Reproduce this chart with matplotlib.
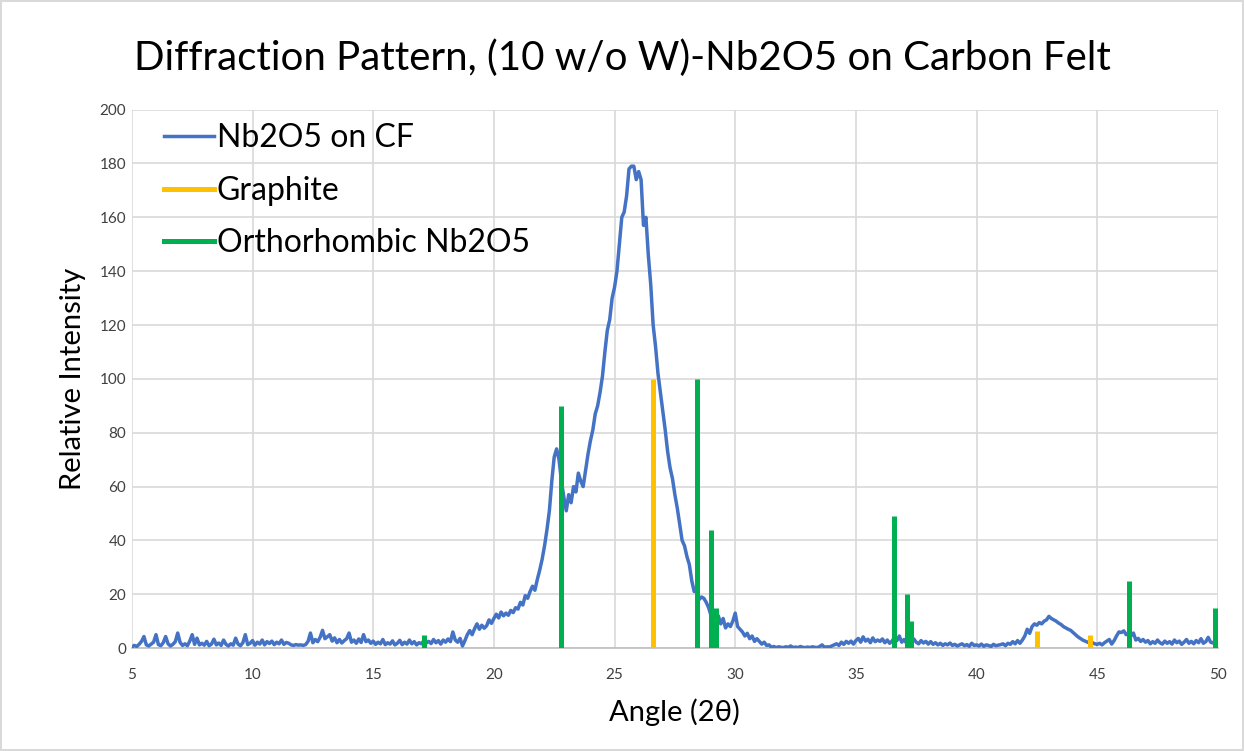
import matplotlib
matplotlib.use("Agg")
import numpy as np
from matplotlib import pyplot as plt

plt.rcParams['font.family'] = ['Lato', 'DejaVu Sans']

# measured pattern, 0.1 deg steps from 5.0 to 50.0
angle_start, angle_step = 5.0, 0.1
intensity = [
    0.4, 1.0, 0.6, 1.4, 2.5, 4.3, 1.2, 0.8, 1.5, 2.2,
    5.0, 1.3, 0.9, 2.0, 4.3, 1.6, 0.8, 1.4, 2.4, 5.6,
    2.1, 1.0, 1.6, 0.9, 2.6, 5.0, 1.4, 3.7, 1.2, 1.8,
    1.1, 2.5, 0.9, 1.5, 3.3, 1.2, 1.9, 1.0, 3.0, 1.4,
    0.8, 1.6, 1.1, 3.7, 1.5, 0.9, 2.0, 5.0, 1.3, 1.8,
    2.8, 1.1, 2.2, 1.5, 3.0, 1.2, 2.4, 1.7, 2.6, 1.3,
    2.2, 1.6, 3.0, 1.4, 2.1, 1.8, 1.2, 1.0, 1.3, 1.1,
    1.2, 1.0, 1.3, 2.5, 5.6, 2.0, 3.2, 2.4, 4.0, 6.6,
    3.5, 4.2, 5.0, 2.6, 3.8, 2.0, 3.2, 1.9, 2.8, 3.5,
    5.6, 2.2, 3.0, 1.8, 3.4, 2.1, 5.0, 2.4, 3.0, 1.8,
    2.6, 1.4, 2.2, 1.6, 3.2, 1.3, 2.0, 1.5, 2.7, 1.2,
    1.8, 2.9, 1.3, 2.2, 1.5, 3.0, 1.6, 2.4, 1.2, 2.0,
    1.6, 2.8, 1.9, 2.5, 1.7, 3.2, 2.0, 2.8, 1.5, 3.0,
    2.2, 3.4, 2.4, 6.0, 3.0, 2.2, 3.6, 0.8, 2.8, 5.0,
    6.5, 5.0, 7.2, 9.0, 7.0, 8.5, 7.4, 8.3, 10.5, 9.2,
    11.0, 12.6, 11.2, 13.4, 12.0, 13.0, 12.2, 14.0, 13.2, 15.0,
    14.5, 17.0, 16.0, 19.5, 18.5, 21.0, 23.0, 21.5, 25.5, 29.0,
    33.0, 38.0, 44.0, 51.0, 62.0, 71.0, 74.0, 70.0, 62.0, 56.0,
    51.0, 57.0, 54.0, 60.0, 58.0, 65.0, 62.0, 60.0, 66.0, 72.0,
    77.0, 81.0, 87.0, 90.0, 95.0, 101.0, 110.0, 118.0, 122.0, 130.0,
    134.0, 140.0, 150.0, 160.0, 162.0, 168.0, 178.0, 179.0, 179.0, 174.0,
    177.0, 174.0, 157.0, 160.0, 146.0, 135.0, 120.0, 112.0, 102.0, 95.0,
    88.0, 81.0, 73.0, 67.0, 63.0, 57.0, 52.0, 46.0, 40.0, 38.0,
    34.0, 31.0, 25.0, 21.0, 22.0, 18.0, 19.0, 18.5, 17.0, 15.0,
    12.0, 14.0, 10.0, 12.0, 9.0, 11.0, 7.5, 9.0, 8.0, 10.0,
    13.0, 8.0, 7.0, 6.0, 4.5, 5.5, 3.5, 4.5, 2.5, 3.5,
    2.5, 1.5, 2.2, 1.0, 1.2, 0.3, 0.6, 0.2, 0.5, 0.3,
    0.2, 0.5, 0.3, 0.8, 0.2, 0.4, 0.2, 0.6, 0.3, 0.2,
    0.4, 0.2, 0.5, 0.3, 0.2, 0.6, 1.2, 0.3, 0.5, 0.4,
    0.8, 1.2, 1.6, 1.0, 2.2, 1.4, 2.5, 1.8, 2.6, 1.5,
    2.8, 3.6, 2.2, 4.2, 2.6, 3.3, 2.0, 3.8, 2.4, 3.0,
    2.5, 3.4, 2.0, 3.0, 1.8, 2.6, 4.0, 2.8, 4.5, 2.2,
    3.2, 1.8, 2.8, 2.0, 3.4, 2.2, 1.6, 2.8, 1.9, 2.5,
    1.5, 2.4, 1.4, 2.0, 1.2, 1.8, 1.0, 1.6, 1.2, 1.9,
    1.0, 1.4, 0.8, 1.2, 1.6, 0.9, 1.3, 0.7, 1.8, 1.0,
    1.2, 0.8, 1.5, 0.7, 1.2, 1.0, 0.6, 1.4, 0.9, 1.1,
    1.3, 1.6, 0.9, 1.8, 1.4, 2.4, 1.6, 2.8, 1.8, 3.0,
    4.5, 7.0, 5.5, 8.0, 9.0, 8.5, 9.5, 9.0, 10.0, 10.5,
    11.8, 11.0, 10.5, 10.0, 9.3, 8.8, 8.0, 7.5, 7.0, 6.6,
    5.8, 5.0, 4.2, 3.6, 3.0, 2.6, 2.2, 1.8, 2.0, 1.6,
    1.4, 1.8, 1.2, 2.0, 2.6, 3.2, 1.5, 2.8, 4.5, 6.0,
    5.8, 6.4, 5.0, 5.6, 4.5, 5.6, 3.0, 3.6, 2.5, 3.2,
    2.2, 2.8, 1.6, 2.4, 1.8, 3.0, 2.0, 1.5, 2.6, 1.8,
    2.4, 1.5, 3.0, 2.0, 2.6, 1.4, 2.2, 3.2, 1.8, 2.5,
    1.6, 2.8, 2.0, 3.5, 1.8, 2.4, 4.0, 2.2, 1.9, 3.0,
    2.5,
]
angle = angle_start + angle_step * np.arange(len(intensity))

# reference sticks
graphite_pos = [26.6, 42.5, 44.7]
graphite_int = [100, 6.5, 5]
ortho_pos = [17.1, 22.8, 28.4, 29.0, 29.2, 36.6, 37.1, 37.3, 46.3, 49.9]
ortho_int = [5, 90, 100, 44, 15, 49, 20, 10, 25, 15]

fig = plt.figure(figsize=(12.44, 7.51), dpi=100)
fig.patch.set_edgecolor('#d9d9d9')
fig.patch.set_linewidth(1.5)
ax = fig.add_axes([0.106, 0.137, 0.873, 0.717])

ax.plot(angle, intensity, color='#4472c4', lw=2.5, label='Nb2O5 on CF', zorder=3)
ax.vlines(graphite_pos, 0, graphite_int, color='#ffc000', lw=3.6, zorder=4)
ax.vlines(ortho_pos, 0, ortho_int, color='#00b050', lw=3.6, zorder=4)
ax.plot([], [], color='#ffc000', lw=3.6, label='Graphite')
ax.plot([], [], color='#00b050', lw=3.6, label='Orthorhombic Nb2O5')

ax.set_xlim(5, 50)
ax.set_ylim(0, 200)
ax.set_xticks(range(5, 51, 5))
ax.set_yticks(range(0, 201, 20))
ax.grid(True, color='#d9d9d9', lw=1.2)
ax.set_axisbelow(True)
ax.tick_params(length=0, labelsize=11, colors='#404040')
ax.tick_params(axis='x', pad=14)
ax.tick_params(axis='y', pad=4)
for side in ['left', 'right', 'top']:
    ax.spines[side].set_visible(False)
ax.spines['bottom'].set_color('#bfbfbf')
ax.spines['bottom'].set_linewidth(1.2)

ax.set_xlabel('Angle (2θ)', fontsize=21, labelpad=12)
ax.set_ylabel('Relative Intensity', fontsize=21, labelpad=10)
fig.suptitle('Diffraction Pattern, (10 w/o W)-Nb2O5 on Carbon Felt', fontsize=29, y=0.948)

ax.legend(loc='upper left', frameon=False, fontsize=23, handlelength=1.55,
          handletextpad=0.1, labelspacing=0.7, borderaxespad=0.2,
          bbox_to_anchor=(0.012, 1.01))

fig.savefig('out.png', dpi=100)
